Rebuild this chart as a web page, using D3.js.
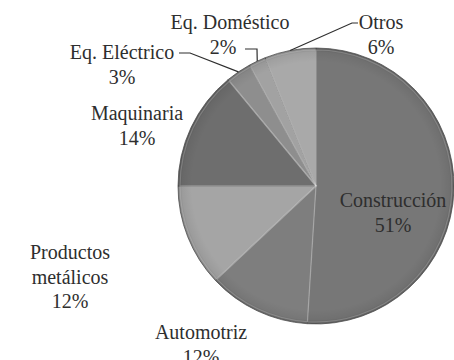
<!DOCTYPE html>
<html>
<head>
<meta charset="utf-8">
<script src="https://cdn.jsdelivr.net/npm/d3@7"></script>
<style>
  svg text { font-family: "Liberation Serif", "Times New Roman", serif !important; }
</style>
</head>
<body style="margin:0">
<svg id="s" width="454" height="360" font-family="Liberation Serif"></svg>
<script>
// datos del gráfico (sentido horario desde las 12)
var categories = [ "Construcción", "Automotriz", "Productos metálicos", "Maquinaria", "Eq. Eléctrico", "Eq. Doméstico", "Otros" ];
var values = [ 51, 12, 12, 14, 3, 2, 6 ];
var sliceColors = [ "#777777", "#7e7e7e", "#a5a5a5", "#6e6e6e", "#8e8e8e", "#a2a2a2", "#a9a9a9" ];

var svg = d3.select( "#s" );
var cx = 316, cy = 186, radius = 138;

var defs = svg.append( "defs" );
var grad = defs.append( "radialGradient" ).attr( "id", "edge" )
  .attr( "cx", "50%" ).attr( "cy", "50%" ).attr( "r", "50%" );
grad.append( "stop" ).attr( "offset", "0.9" ).attr( "stop-color", "#000" ).attr( "stop-opacity", 0 );
grad.append( "stop" ).attr( "offset", "0.97" ).attr( "stop-color", "#000" ).attr( "stop-opacity", 0.06 );
grad.append( "stop" ).attr( "offset", "1" ).attr( "stop-color", "#000" ).attr( "stop-opacity", 0.22 );

var pie = d3.pie().sort( null ).value( function ( d ) { return d; } );
var arcs = pie( values );
var arc = d3.arc().innerRadius( 0 ).outerRadius( radius );

var g = svg.append( "g" ).attr( "transform", "translate(" + cx + "," + cy + ")" );

g.selectAll( "path.slice" )
  .data( arcs )
  .enter()
  .append( "path" )
  .attr( "class", "slice" )
  .attr( "d", arc )
  .attr( "fill", function ( d, i ) { return sliceColors[ i ]; } )
  .attr( "stroke", "#5a5a5a" )
  .attr( "stroke-width", 0.8 );

// brillo en los bordes de cada porción
g.selectAll( "path.shine" )
  .data( arcs )
  .enter()
  .append( "path" )
  .attr( "class", "shine" )
  .attr( "d", d3.arc().innerRadius( 0 ).outerRadius( radius - 2 ) )
  .attr( "fill", "none" )
  .attr( "stroke", "#fff" )
  .attr( "stroke-opacity", 0.25 )
  .attr( "stroke-width", 1.2 );

g.append( "circle" ).attr( "r", radius ).attr( "fill", "url(#edge)" );

// posición de la primera línea de cada etiqueta
var labelPos = [
  { x: 393, y: 207 },
  { x: 201, y: 339 },
  { x: 70, y: 259 },
  { x: 137, y: 120 },
  { x: 122, y: 59 },
  { x: 230, y: 29 },
  { x: 381, y: 29 }
];
var lineH = 24.5;

var rows = [];
categories.forEach( function ( name, i ) {
  var lines = name === "Productos metálicos" ? [ "Productos", "metálicos" ] : [ name ];
  lines.push( values[ i ] + "%" );
  lines.forEach( function ( l, k ) {
    var tx = labelPos[ i ].x;
    if ( name === "Eq. Doméstico" && k === 1 ) tx = 223;
    rows.push( { t: l, x: tx, y: labelPos[ i ].y + k * lineH } );
  } );
} );

svg.selectAll( "text" ).data( rows ).enter().append( "text" )
  .attr( "x", function ( d ) { return d.x; } )
  .attr( "y", function ( d ) { return d.y; } )
  .attr( "text-anchor", "middle" )
  .attr( "font-size", 20 )
  .attr( "font-family", "Liberation Serif" )
  .attr( "fill", "#2e2e2e" )
  .text( function ( d ) { return d.t; } );

// líneas guía
function leader( i, pts ) {
  var mid = ( arcs[ i ].startAngle + arcs[ i ].endAngle ) / 2;
  var edge = [ cx + Math.sin( mid ) * radius, cy - Math.cos( mid ) * radius ];
  svg.append( "path" )
    .attr( "d", d3.line()( pts.concat( [ edge ] ) ) )
    .attr( "fill", "none" )
    .attr( "stroke", "#2e2e2e" )
    .attr( "stroke-width", 1.2 );
}
leader( 4, [ [ 179, 53 ], [ 190, 53 ] ] );
leader( 5, [ [ 245, 49 ], [ 257, 49 ] ] );
leader( 6, [ [ 358, 23 ], [ 352, 23 ] ] );
</script>
</body>
</html>
